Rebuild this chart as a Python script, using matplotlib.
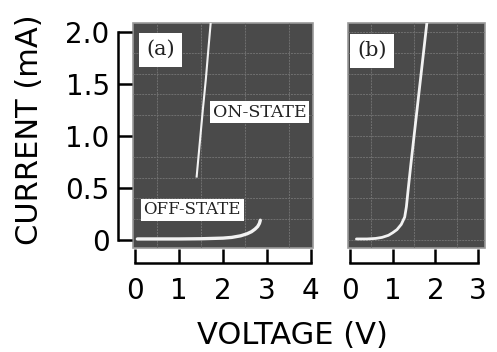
import matplotlib
matplotlib.use("Agg")
import matplotlib.pyplot as plt
from matplotlib.ticker import MultipleLocator
from matplotlib.patches import Rectangle

# ---- data ----
on_v = [1.40, 1.47, 1.54, 1.61, 1.67, 1.72]
on_i = [0.61, 0.93, 1.25, 1.55, 1.85, 2.09]

off_v = [0.05, 0.5, 1.0, 1.5, 2.0, 2.2, 2.4, 2.55, 2.65, 2.73, 2.79, 2.83, 2.85]
off_i = [0.01, 0.01, 0.01, 0.012, 0.018, 0.025, 0.04, 0.06, 0.08, 0.105, 0.13, 0.16, 0.19]

b_v = [0.15, 0.40, 0.60, 0.75, 0.90, 1.00, 1.10, 1.20, 1.28, 1.32, 1.36,
       1.42, 1.48, 1.56, 1.64, 1.72, 1.80]
b_i = [0.01, 0.01, 0.015, 0.025, 0.045, 0.07, 0.10, 0.15, 0.22, 0.32, 0.48,
       0.71, 0.93, 1.22, 1.51, 1.80, 2.09]

a_xticks = [0, 1, 2, 3, 4]
a_xlabels = ["0", "1", "2", "3", "4"]
b_xticks = [0, 1, 2, 3]
b_xlabels = ["0", "1", "2", "3"]
yticks = [0, 0.5, 1.0, 1.5, 2.0]
ylabels = ["0", "0.5", "1.0", "1.5", "2.0"]

W, H = 497, 352
fig = plt.figure(figsize=(W / 100, H / 100), dpi=100)
fig.patch.set_facecolor("white")

axa = fig.add_axes([133 / W, 1 - 248 / H, 180 / W, 225 / H])
axb = fig.add_axes([348 / W, 1 - 248 / H, 137 / W, 225 / H])

bg = "#4a4a4a"
gridc = "#707070"
curve = "#f2f2f2"
serif = "DejaVu Serif"

for ax in (axa, axb):
    ax.set_facecolor(bg)
    ax.set_ylim(-0.077, 2.087)
    for s in ("top", "right"):
        ax.spines[s].set_visible(False)
    ax.spines["bottom"].set_position(("outward", 10.8))
    ax.spines["left"].set_position(("outward", 10.8))
    ax.spines["bottom"].set_linewidth(1.8)
    ax.spines["left"].set_linewidth(1.8)
    ax.xaxis.set_minor_locator(MultipleLocator(0.5))
    ax.yaxis.set_minor_locator(MultipleLocator(0.2))
    ax.grid(which="minor", color=gridc, lw=0.7, ls=(0, (2, 1)))
    ax.tick_params(which="minor", length=0)
    ax.tick_params(which="major", direction="in", length=10, width=1.8,
                   labelsize=20, pad=10)
    ax.add_patch(Rectangle((0, 0), 1, 1, transform=ax.transAxes, fill=False,
                           ec="#9a9a9a", lw=1.2, clip_on=False))

# panel (a)
axa.set_xlim(-0.05, 4.05)
axa.set_xticks(a_xticks, a_xlabels)
axa.set_yticks(yticks, ylabels)
axa.spines["bottom"].set_bounds(0, 4)
axa.spines["left"].set_bounds(0, 2.0)
axa.tick_params(axis="y", pad=6)
axa.plot(on_v, on_i, color=curve, lw=1.5)
axa.plot(off_v, off_i, color=curve, lw=2.4, solid_capstyle="round")
box = dict(boxstyle="square,pad=0.15", fc="white", ec="none")
axa.text(0.57, 1.83, "(a)", family=serif, fontsize=15, ha="center",
         va="center", color="#222222",
         bbox=dict(boxstyle="square,pad=0.35", fc="white", ec="none"))
axa.text(2.84, 1.23, "ON-STATE", family=serif, fontsize=12.5, ha="center",
         va="center", color="#222222", bbox=box)
axa.text(1.30, 0.29, "OFF-STATE", family=serif, fontsize=12, ha="center",
         va="center", color="#222222", bbox=box)

# panel (b)
axb.set_xlim(-0.047, 3.16)
axb.set_xticks(b_xticks, b_xlabels)
axb.set_yticks([])
axb.spines["left"].set_visible(False)
axb.spines["bottom"].set_bounds(0, 3)
axb.plot(b_v, b_i, color=curve, lw=2.0, solid_capstyle="round")
axb.text(0.52, 1.82, "(b)", family=serif, fontsize=15, ha="center",
         va="center", color="#222222",
         bbox=dict(boxstyle="square,pad=0.35", fc="white", ec="none"))

fig.text(30 / W, 1 - 130 / H, "CURRENT (mA)", rotation=90, ha="center",
         va="center", fontsize=22)
fig.text(292 / W, 1 - 336 / H, "VOLTAGE (V)", ha="center", va="center",
         fontsize=22)

fig.savefig("out.png", dpi=100)
